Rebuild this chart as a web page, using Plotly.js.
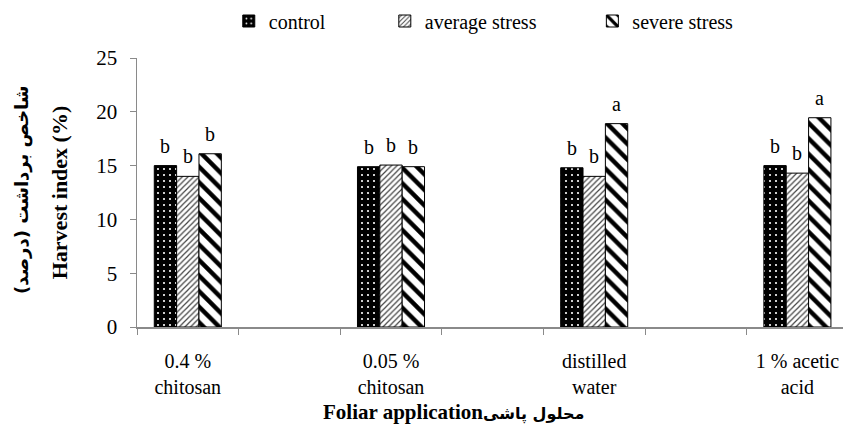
<!DOCTYPE html>
<html><head><meta charset="utf-8">
<script src="https://cdn.plot.ly/plotly-3.0.1.min.js"></script>
<style>html,body{margin:0;padding:0;background:#fff}</style>
</head><body><div id="chart" style="width:843px;height:433px"></div>
<script>
// ---- data ----
const categories = ["0.4 %<br>chitosan", "0.05 %<br>chitosan", "distilled<br>water", "1 % acetic<br>acid"];
const seriesNames = ["control", "average stress", "severe stress"];
const control = [15.0, 14.9, 14.8, 15.0];
const averageStress = [14.0, 15.05, 14.0, 14.3];
const severeStress = [16.1, 14.9, 18.9, 19.45];
const controlLetters = ["b", "b", "b", "b"];
const averageLetters = ["b", "b", "b", "b"];
const severeLetters = ["b", "b", "a", "a"];
const yTickVals = [0, 5, 10, 15, 20, 25];

// ---- layout helpers ----
const SERIF = "Liberation Serif";
const MIXED = "Liberation Serif, DejaVu Sans";
const AXIS = "#8a8a8a";
const BARGAP = 0.67;
const xpos = categories.map((c, i) => 2 * i);           // one empty slot between groups
const barW = 2 * (1 - BARGAP) / 3;

const values = [control, averageStress, severeStress];
const letters = [controlLetters, averageLetters, severeLetters];
const patterns = [
  {shape: ".", bgcolor: "#000", fgcolor: "#fff", size: 6, solidity: 0.1, fillmode: "replace"},
  {shape: "/", bgcolor: "#fff", fgcolor: "#444", size: 4, solidity: 0.3, fillmode: "replace"},
  {shape: "\\", bgcolor: "#fff", fgcolor: "#000", size: 11, solidity: 0.4, fillmode: "replace"}
];
const legendIds = ["legend", "legend2", "legend3"];

const traces = values.map((v, j) => ({
  type: "bar",
  name: seriesNames[j],
  x: xpos,
  y: v,
  legend: legendIds[j],
  marker: {color: patterns[j].bgcolor, pattern: patterns[j], line: {color: "#000", width: 1}},
  hoverinfo: "skip"
}));

const annotations = [];
values.forEach((v, j) => {
  v.forEach((val, i) => {
    annotations.push({
      x: xpos[i] + (j - 1) * barW, y: val, xref: "x", yref: "y",
      text: letters[j][i], showarrow: false, yanchor: "bottom", yshift: 7,
      font: {family: SERIF, size: 20, color: "#000"}
    });
  });
});
// Persian y title line
annotations.push({
  xref: "paper", yref: "paper", x: -0.163, y: 0.513, xanchor: "center", yanchor: "middle",
  textangle: -90, showarrow: false,
  text: "<b>شاخص برداشت (درصد)</b>",
  font: {family: "DejaVu Sans", size: 18, color: "#000"}
});
// x title
annotations.push({
  xref: "paper", yref: "paper", x: 0.448, y: -0.315, xanchor: "center", yanchor: "middle",
  showarrow: false,
  text: "<b>Foliar application<span style='font-family:DejaVu Sans;font-size:16px'>محلول پاشی</span></b>",
  font: {family: MIXED, size: 21, color: "#000"}
});

const legendCommon = {
  orientation: "h", yanchor: "middle", y: 1.1375, xanchor: "left",
  font: {family: SERIF, size: 20, color: "#000"}, bgcolor: "rgba(0,0,0,0)", itemclick: false
};

const layout = {
  width: 843, height: 433,
  margin: {l: 137, r: 0, t: 58, b: 106},
  paper_bgcolor: "#fff", plot_bgcolor: "#fff",
  barmode: "group", bargap: BARGAP, bargroupgap: 0,
  font: {family: SERIF, size: 20, color: "#000"},
  xaxis: {
    range: [-0.5, -0.5 + 706 / 101.6],
    tickmode: "array", tickvals: xpos, ticktext: categories,
    ticks: "", showgrid: false, zeroline: false,
    showline: true, linecolor: AXIS, linewidth: 1.5,
    tickfont: {family: SERIF, size: 20, color: "#000"},
    ticklabelstandoff: 15,
    minor: {tickmode: "linear", tick0: -0.5, dtick: 1, ticks: "outside", ticklen: 6, tickcolor: AXIS, tickwidth: 1, showgrid: false}
  },
  yaxis: {
    range: [0, 25], tickmode: "array", tickvals: yTickVals,
    ticks: "outside", ticklen: 6, tickcolor: AXIS, tickwidth: 1,
    showline: true, linecolor: AXIS, linewidth: 1.5,
    showgrid: false, zeroline: false,
    tickfont: {family: SERIF, size: 21, color: "#000"},
    ticklabelstandoff: 8,
    title: {text: "<b>Harvest index (%)</b>", font: {family: SERIF, size: 22, color: "#000"}, standoff: 22}
  },
  legend: Object.assign({}, legendCommon, {x: 0.13}),
  legend2: Object.assign({}, legendCommon, {x: 0.351}),
  legend3: Object.assign({}, legendCommon, {x: 0.645}),
  annotations: annotations,
  showlegend: true
};

Plotly.newPlot("chart", traces, layout, {displayModeBar: false, staticPlot: true});
</script>
</body></html>
